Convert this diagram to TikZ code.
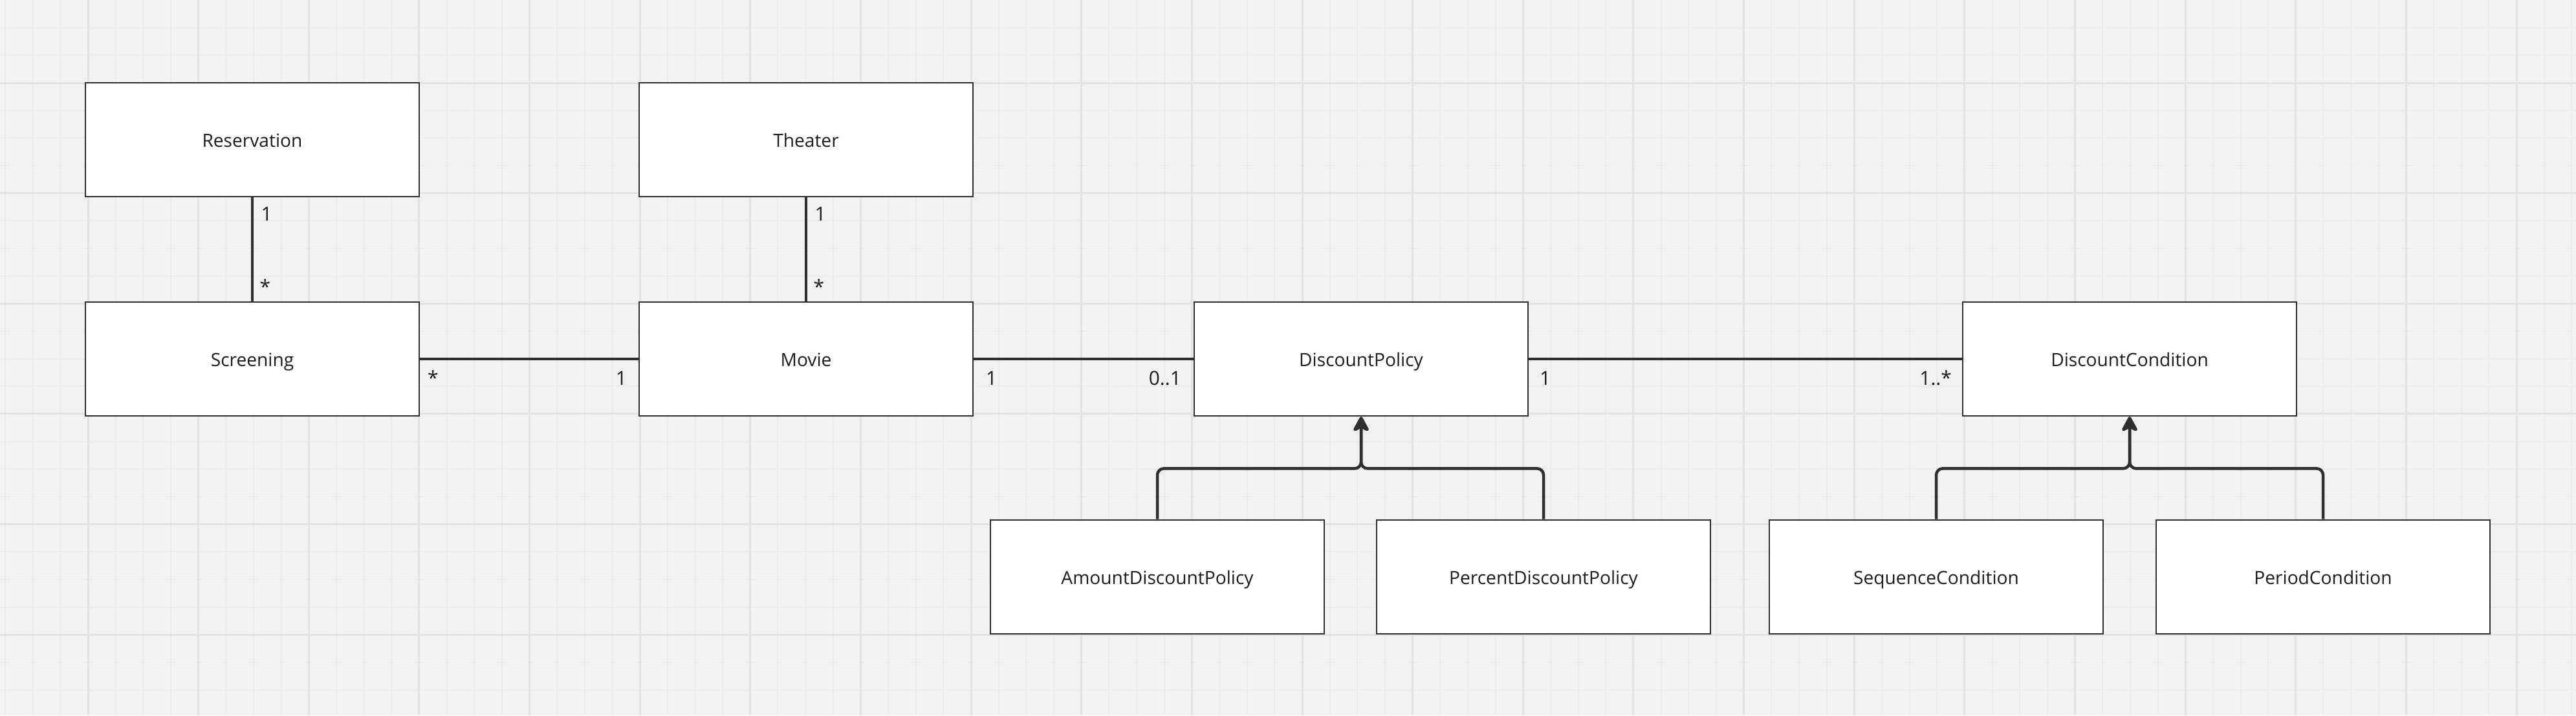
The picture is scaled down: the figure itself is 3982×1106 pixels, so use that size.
\documentclass[tikz,border=0pt]{standalone}
\usepackage{fontspec}
\setmainfont{Open Sans}
\usetikzlibrary{arrows.meta,positioning}
\definecolor{boardbg}{HTML}{F2F2F2}
\definecolor{minorline}{HTML}{EBEBEB}
\definecolor{majorline}{HTML}{E3E3E3}
\definecolor{linegray}{HTML}{2F2F2F}
\definecolor{textgray}{HTML}{1C1C1C}
\tikzset{
  umlclass/.style={draw=linegray, line width=0.025cm, fill=white, minimum width=5.16cm,
    minimum height=1.76cm, inner sep=0pt, text height=0.235cm, text depth=0pt,
    text=textgray, font=\fontsize{8}{9.6}\selectfont},
  mult/.style={inner sep=0pt, text=textgray, font=\fontsize{8.5}{10}\selectfont},
  assoc/.style={draw=linegray, line width=0.045cm},
  gen/.style={assoc, rounded corners=0.1cm, -{Stealth[length=0.27cm, width=0.29cm, inset=0.07cm, round]}},
}
\begin{document}
\begin{tikzpicture}[x=0.01cm, y=-0.01cm]
\useasboundingbox (0,0) rectangle (3982,1106);
\fill[boardbg] (0,0) rectangle (3982,1106);
% board grid
\foreach \i in {0,...,93} \draw[minorline, line width=0.02cm] ({8+42.66*\i},0) -- ++(0,1106);
\foreach \j in {1,...,25} \draw[minorline, line width=0.02cm] (0,{42.66*\j}) -- ++(3982,0);
\foreach \i in {0,...,22} \draw[majorline, line width=0.03cm] ({136+170.64*\i},0) -- ++(0,1106);
\foreach \j in {0,...,5} \draw[majorline, line width=0.03cm] (0,{128+170.64*\j}) -- ++(3982,0);

% classes
\node[umlclass] (reservation) at (390,216) {Reservation};
\node[umlclass] (screening) at (390,555) {Screening};
\node[umlclass] (theater) at (1246,216) {Theater};
\node[umlclass] (movie) at (1246,555) {Movie};
\node[umlclass] (policy) at (2104,555) {DiscountPolicy};
\node[umlclass] (condition) at (3292,555) {DiscountCondition};
\node[umlclass] (amount) at (1789,892) {AmountDiscountPolicy};
\node[umlclass] (percent) at (2386,892) {PercentDiscountPolicy};
\node[umlclass] (sequence) at (2993,892) {SequenceCondition};
\node[umlclass] (period) at (3591,892) {PeriodCondition};

% associations
\draw[assoc] (reservation) -- (screening);
\draw[assoc] (theater) -- (movie);
\draw[assoc] (screening) -- (movie);
\draw[assoc] (movie) -- (policy);
\draw[assoc] (policy) -- (condition);

\node[mult, anchor=base west] (resone) at ([xshift=0.13cm, yshift=-0.36cm]reservation.south) {1};
\node[mult, anchor=base west] (scrmany) at ([xshift=0.11cm, yshift=0.11cm]screening.north) {*};
\node[mult, anchor=base west] (theone) at ([xshift=0.13cm, yshift=-0.36cm]theater.south) {1};
\node[mult, anchor=base west] (movmany) at ([xshift=0.11cm, yshift=0.11cm]movie.north) {*};
\node[mult, anchor=base west] (scrright) at ([xshift=0.11cm, yshift=-0.4cm]screening.east) {*};
\node[mult, anchor=base east] (movleft) at ([xshift=-0.17cm, yshift=-0.4cm]movie.west) {1};
\node[mult, anchor=base west] (movright) at ([xshift=0.18cm, yshift=-0.4cm]movie.east) {1};
\node[mult, anchor=base east] (polleft) at ([xshift=-0.18cm, yshift=-0.4cm]policy.west) {0..1};
\node[mult, anchor=base west] (polright) at ([xshift=0.16cm, yshift=-0.4cm]policy.east) {1};
\node[mult, anchor=base east] (condleft) at ([xshift=-0.15cm, yshift=-0.4cm]condition.west) {1..*};

% generalizations
\coordinate (polmid) at ([yshift=-0.8cm]policy.south);
\coordinate (condmid) at ([yshift=-0.8cm]condition.south);
\draw[gen] (amount.north) |- (polmid) -- (policy.south);
\draw[gen] (percent.north) |- (polmid) -- (policy.south);
\draw[gen] (sequence.north) |- (condmid) -- (condition.south);
\draw[gen] (period.north) |- (condmid) -- (condition.south);
\end{tikzpicture}
\end{document}
